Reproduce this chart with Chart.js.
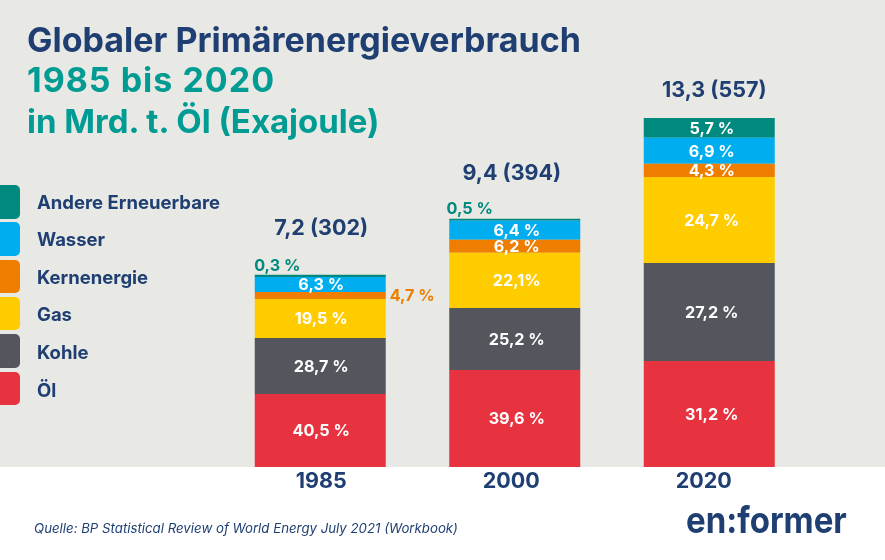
<!DOCTYPE html>
<html lang="de">
<head>
<meta charset="utf-8">
<title>Globaler Primärenergieverbrauch</title>
<script src="https://cdn.jsdelivr.net/npm/chart.js@4"></script>
<style>
    html, body { margin: 0; padding: 0; background: #fff; }
    #wrap { position: relative; width: 885px; height: 560px; overflow: hidden; font-family: Inter, Lato, sans-serif; color: #1f3f73; }
    #wrap canvas { position: absolute; left: 0; top: 0; }
    .title { position: absolute; left: 27px; font-size: 34px; font-weight: 700; line-height: 40px; white-space: nowrap; }
    #legend { position: absolute; left: 0; top: 0; }
    .swatch { position: absolute; left: -10px; width: 30px; height: 33.5px; border-radius: 5px; }
    .entry { position: absolute; left: 37px; font-size: 18.5px; font-weight: 700; line-height: 22px; white-space: nowrap; }
    #source { position: absolute; left: 34px; top: 520px; font-size: 13.25px; font-style: italic; line-height: 17px; white-space: nowrap; }
    #logo { position: absolute; left: 686px; top: 500px; font-size: 33px; font-weight: 700; line-height: 40px; white-space: nowrap; transform: scaleY(1.12); }
</style>
</head>
<body>
<div id="wrap">
    <canvas id="energyChart" width="885" height="560"></canvas>
    <div class="title" style="top: 20px;">Globaler Primärenergieverbrauch</div>
    <div class="title" style="top: 60px; color: #009c94; letter-spacing: 1px;">1985 bis 2020</div>
    <div class="title" style="top: 101px; color: #009c94; font-size: 33px;">in Mrd. t. Öl (Exajoule)</div>
    <div id="legend"></div>
    <div id="source">Quelle: BP Statistical Review of World Energy July 2021 (Workbook)</div>
    <div id="logo">en:former</div>
</div>
<script>
// Daten (Mrd. t Öl)
const years = ['1985', '2000', '2020'];
const carriers = ['Öl', 'Kohle', 'Gas', 'Kernenergie', 'Wasser', 'Andere Erneuerbare'];
const oil = [2.78, 3.70, 4.04];
const coal = [2.13, 2.36, 3.73];
const gas = [1.49, 2.10, 3.28];
const nuclear = [0.27, 0.50, 0.50];
const hydro = [0.57, 0.72, 0.99];
const renewables = [0.08, 0.08, 0.76];

// Beschriftungen
const oilLabels = ['40,5 %', '39,6 %', '31,2 %'];
const coalLabels = ['28,7 %', '25,2 %', '27,2 %'];
const gasLabels = ['19,5 %', '22,1%', '24,7 %'];
const nuclearLabels = ['4,7 %', '6,2 %', '4,3 %'];
const hydroLabels = ['6,3 %', '6,4 %', '6,9 %'];
const renewablesLabels = ['0,3 %', '0,5 %', '5,7 %'];
const totals = ['7,2 (302)', '9,4 (394)', '13,3 (557)'];

const carrierColors = ['#e73340', '#54565e', '#ffcc00', '#ee7d00', '#00aeef', '#00897f'];
const navy = '#1f3f73';
const fontFamily = 'Inter, Lato, sans-serif';

const seriesValues = [oil, coal, gas, nuclear, hydro, renewables];
const seriesLabels = [oilLabels, coalLabels, gasLabels, nuclearLabels, hydroLabels, renewablesLabels];

// Legende von oben nach unten
const legendEl = document.getElementById('legend');
carriers.slice().reverse().forEach((name, i) => {
    const swatch = document.createElement('div');
    swatch.className = 'swatch';
    swatch.style.top = (185 + i * 37.3) + 'px';
    swatch.style.background = carrierColors[carriers.length - 1 - i];
    legendEl.appendChild(swatch);
    const entry = document.createElement('div');
    entry.className = 'entry';
    entry.style.top = (190.5 + i * 37.6) + 'px';
    entry.textContent = name;
    legendEl.appendChild(entry);
});

// Hintergrund nur bis zur Grundlinie, Jahreszahlen stehen nicht ganz mittig
const tickShift = [1, -3.5, -5.5];
const backdrop = {
    id: 'backdrop',
    beforeDraw(chart) {
        const { ctx, chartArea } = chart;
        ctx.save();
        ctx.fillStyle = '#e8e8e4';
        ctx.fillRect(0, 0, chart.width, chartArea.bottom);
        ctx.restore();
        const items = chart.scales.x.getLabelItems();
        items.forEach((item, i) => {
            if (!item.shifted) {
                item.options.translation[0] += tickShift[i];
                item.shifted = true;
            }
        });
    }
};

// Werte stehen leicht rechts der Balkenmitte
const labelShift = [1, 2, 2.5];

// Ausnahmen: Werte, die neben dem Balken stehen
const outside = {
    '3-0': { dx: 91, dy: 0, color: '#ee7d00' },
    '5-0': { dx: -44, dy: -11, color: '#00897f' },
    '5-1': { dx: -47, dy: -12, color: '#00897f' }
};

const valueLabels = {
    id: 'valueLabels',
    afterDatasetsDraw(chart) {
        const { ctx } = chart;
        ctx.save();
        ctx.textAlign = 'center';
        ctx.textBaseline = 'middle';
        ctx.font = '700 16.2px ' + fontFamily;
        chart.data.datasets.forEach((ds, d) => {
            chart.getDatasetMeta(d).data.forEach((bar, i) => {
                const mid = (bar.y + bar.base) / 2 + 1;
                const o = outside[d + '-' + i];
                ctx.fillStyle = o ? o.color : '#fff';
                ctx.fillText(seriesLabels[d][i], bar.x + labelShift[i] + (o ? o.dx : 0), o ? mid + o.dy : mid);
            });
        });
        // Summen über den Balken
        const top = chart.getDatasetMeta(chart.data.datasets.length - 1).data;
        ctx.fillStyle = navy;
        ctx.font = '700 21.5px ' + fontFamily;
        top.forEach((bar, i) => {
            ctx.fillText(totals[i], bar.x + [1, -3, 5][i], bar.y - [46, 45, 27][i]);
        });
        ctx.restore();
    }
};

new Chart(document.getElementById('energyChart'), {
    type: 'bar',
    data: {
        labels: years,
        datasets: carriers.map((name, i) => ({
            label: name,
            data: seriesValues[i],
            backgroundColor: carrierColors[i],
            borderWidth: 0,
            barPercentage: 0.6735,
            categoryPercentage: 1
        }))
    },
    options: {
        responsive: false,
        animation: false,
        devicePixelRatio: 1,
        layout: { padding: { left: 223, right: 78.5, top: 47, bottom: 53 } },
        plugins: { legend: { display: false }, tooltip: { enabled: false } },
        scales: {
            x: {
                stacked: true,
                afterFit(scale) { scale.height = 40; },
                grid: { display: false },
                border: { display: false },
                ticks: { color: navy, padding: -6, maxRotation: 0, font: { family: fontFamily, size: 21.5, weight: '700' } }
            },
            y: {
                stacked: true,
                display: false,
                min: 0,
                max: 16
            }
        }
    },
    plugins: [backdrop, valueLabels]
});
</script>
</body>
</html>
